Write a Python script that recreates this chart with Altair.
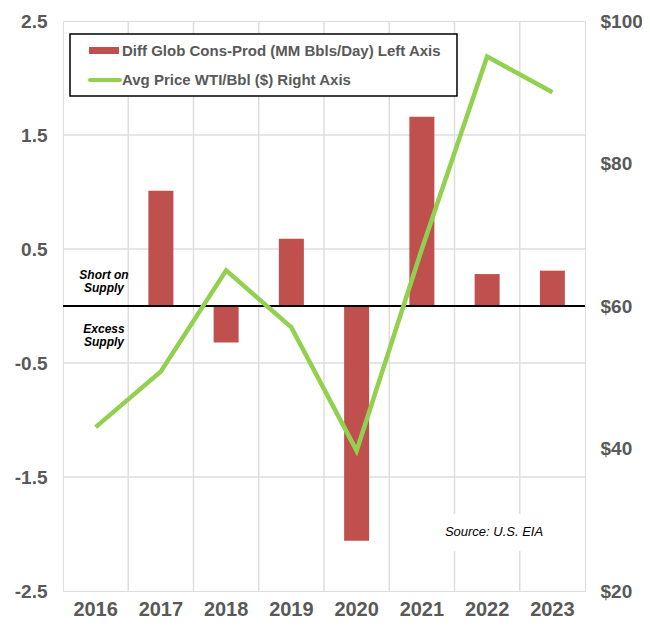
import altair as alt
import pandas as pd

years = ["2016", "2017", "2018", "2019", "2020", "2021", "2022", "2023"]
diff_cons_prod = [0.0, 1.01, -0.32, 0.59, -2.06, 1.66, 0.28, 0.31]
wti_price = [43.0, 50.8, 65.0, 57.0, 39.7, 68.0, 95.0, 90.0]
grid_years = ["2017", "2018", "2019", "2020", "2021", "2022", "2023"]
left_ticks = [-2.5, -1.5, -0.5, 0.5, 1.5, 2.5]
left_grid = [-1.5, -0.5, 0.5, 1.5]
right_ticks = [20, 40, 60, 80, 100]
legend_labels = ["Diff Glob Cons-Prod (MM Bbls/Day) Left Axis", "Avg Price WTI/Bbl ($) Right Axis"]
short_lines = ["Short on", "Supply"]
excess_lines = ["Excess", "Supply"]
source_text = "Source: U.S. EIA"

RED = "#c0504d"
GREEN = "#92d050"
GRAY = "#595959"
FONT = "Liberation Sans"

W, H = 522, 570

df = pd.DataFrame({"year": years, "diff": diff_cons_prod, "price": wti_price})
grid_df = pd.DataFrame({"year": grid_years})
hgrid_df = pd.DataFrame({"v": left_grid})

x_axis = alt.Axis(title=None, labelAngle=0, labelFont=FONT, labelFontSize=20,
                  labelFontWeight="bold", labelColor=GRAY, labelPadding=8,
                  ticks=False, domain=False, grid=False, bandPosition=0.5)
x_scale = alt.Scale(paddingInner=0, paddingOuter=0)

yleft = alt.Scale(domain=[-2.5, 2.5], nice=False, zero=False)
yleft_axis = alt.Axis(title=None, values=left_ticks, orient="left",
                      labelExpr="(datum.value < 0 ? '-' : '') + format(abs(datum.value), '.1f')",
                      labelFont=FONT, labelFontSize=19, labelFontWeight="bold",
                      labelColor=GRAY, labelPadding=16, ticks=False, domain=False,
                      grid=False)

vgrid = alt.Chart(grid_df).mark_rule(color="#dedede", strokeWidth=1.5).encode(
    x=alt.X("year:O", sort=years, bandPosition=0, scale=x_scale, axis=x_axis),
    y=alt.value(0), y2=alt.value(H))

hgrid = alt.Chart(hgrid_df).mark_rule(color="#dedede", strokeWidth=1.5).encode(
    y=alt.Y("v:Q", scale=yleft, axis=yleft_axis),
    x=alt.value(0), x2=alt.value(W))

bars = alt.Chart(df).mark_bar(size=25, color=RED).encode(
    x=alt.X("year:O", sort=years, scale=x_scale, axis=x_axis),
    y=alt.Y("diff:Q", scale=yleft, axis=yleft_axis),
)

zero = alt.Chart(pd.DataFrame({"z": [0.0]})).mark_rule(color="black", strokeWidth=2).encode(
    y=alt.Y("z:Q", scale=yleft, axis=yleft_axis), x=alt.value(0), x2=alt.value(W))

left_layer = alt.layer(vgrid, hgrid, bars, zero)

line = alt.Chart(df).mark_line(color=GREEN, strokeWidth=4.5).encode(
    x=alt.X("year:O", sort=years, scale=x_scale, axis=x_axis),
    y=alt.Y("price:Q", scale=alt.Scale(domain=[20, 100], nice=False, zero=False),
            axis=alt.Axis(title=None, values=right_ticks, labelExpr="'$' + datum.value",
                          orient="right", labelFont=FONT, labelFontSize=19,
                          labelFontWeight="bold", labelColor=GRAY, labelPadding=15,
                          ticks=False, domain=False, grid=False)),
)

one = pd.DataFrame({"a": [0]})
legend_box = alt.Chart(one).mark_rect(
    fill="white", stroke="black", strokeWidth=1.5).encode(
    x=alt.value(7), x2=alt.value(394), y=alt.value(13), y2=alt.value(75))
legend_swatch = alt.Chart(one).mark_rect(fill=RED).encode(
    x=alt.value(26), x2=alt.value(56), y=alt.value(26), y2=alt.value(33))
legend_line = alt.Chart(one).mark_rule(
    color=GREEN, strokeWidth=4, strokeCap="round").encode(
    x=alt.value(27), x2=alt.value(57), y=alt.value(59))
legend_text1 = alt.Chart(pd.DataFrame({"t": [legend_labels[0]]})).mark_text(
    align="left", baseline="middle", font=FONT, fontSize=15, fontWeight="bold",
    color=GRAY).encode(text="t:N", x=alt.value(59), y=alt.value(30))
legend_text2 = alt.Chart(pd.DataFrame({"t": [legend_labels[1]]})).mark_text(
    align="left", baseline="middle", font=FONT, fontSize=15, fontWeight="bold",
    color=GRAY).encode(text="t:N", x=alt.value(59), y=alt.value(59))

short_txt = alt.Chart(pd.DataFrame({"t": short_lines, "yy": [254, 267]})).mark_text(
    align="center", baseline="middle", font=FONT, fontSize=12, fontWeight="bold",
    fontStyle="italic", color="black").encode(text="t:N", x=alt.value(41), y=alt.Y("yy:Q", scale=None))
excess_txt = alt.Chart(pd.DataFrame({"t": excess_lines, "yy": [308, 321]})).mark_text(
    align="center", baseline="middle", font=FONT, fontSize=12, fontWeight="bold",
    fontStyle="italic", color="black").encode(text="t:N", x=alt.value(41), y=alt.Y("yy:Q", scale=None))

src_box = alt.Chart(one).mark_rect(fill="white").encode(
    x=alt.value(377), x2=alt.value(492), y=alt.value(493), y2=alt.value(530))
src_txt = alt.Chart(pd.DataFrame({"t": [source_text]})).mark_text(
    align="center", baseline="middle", font=FONT, fontSize=13, fontStyle="italic",
    color="black").encode(text="t:N", x=alt.value(431), y=alt.value(511))

chart = alt.layer(
    left_layer, line, legend_box, legend_swatch, legend_line, legend_text1, legend_text2,
    short_txt, excess_txt, src_box, src_txt
).resolve_scale(y="independent").properties(
    width=W, height=H, autosize="none",
    padding={"left": 55, "top": 13, "right": 57, "bottom": 28},
).configure_view(stroke="black", strokeWidth=1.5).configure(background="white")

chart.save("out.html", embed_options={"renderer": "svg", "actions": False})
